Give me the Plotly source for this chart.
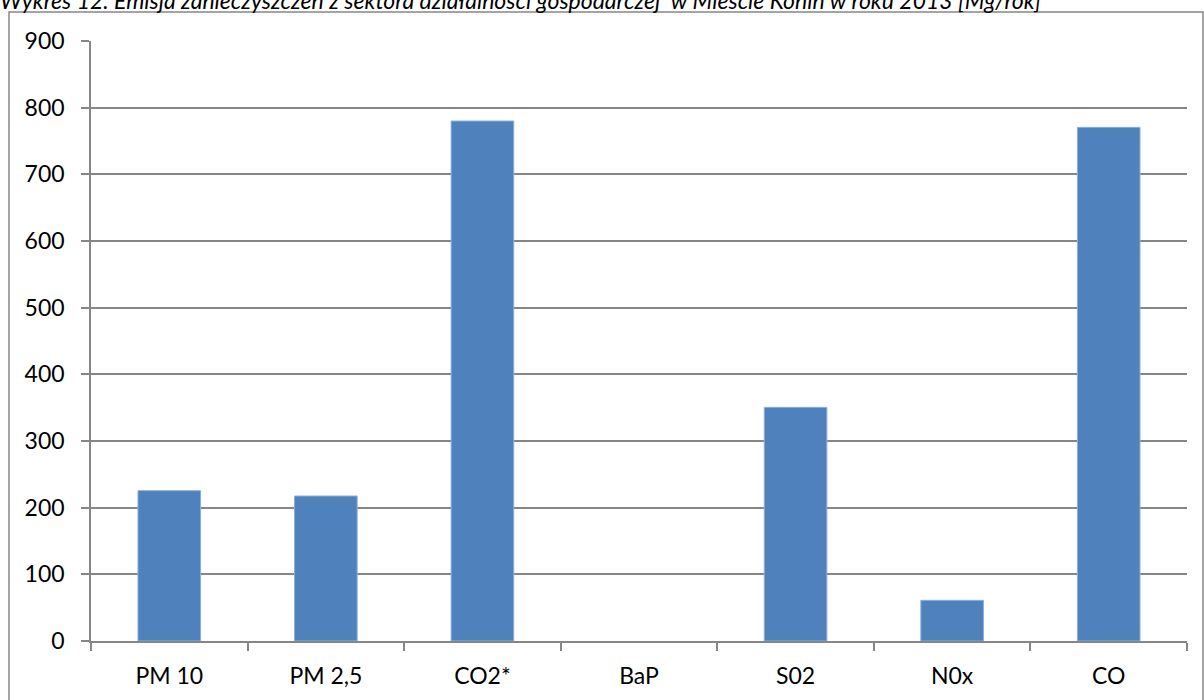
import plotly.graph_objects as go

categories = ["PM 10", "PM 2,5", "CO2*", "BaP", "S02", "N0x", "CO"]
values = [225.5, 217.5, 780, 0, 350.5, 61, 770.5]
y_ticks = [0, 100, 200, 300, 400, 500, 600, 700, 800, 900]
title_text = "Wykres 12. Emisja zanieczyszczeń z sektora działalności gospodarczej  w Mieście Konin w roku 2013 [Mg/rok]"

W, H = 1204, 700
L, R, T, B = 91, 17, 41, 59
pw, ph = W - L - R, H - T - B

def px_x(x):
    return (x - L) / pw

def px_y(y):
    return (H - B - y) / ph

fig = go.Figure(go.Bar(
    x=categories, y=values,
    marker=dict(color="#4F81BD",
                line=dict(color="#8DB0DA", width=[0 if v == 0 else 1 for v in values])),
    width=0.4,
))

grid_color = "#868686"
FONT = "Lato"
fig.update_layout(
    width=W, height=H,
    margin=dict(l=L, r=R, t=T, b=B),
    paper_bgcolor="white", plot_bgcolor="white",
    showlegend=False,
    font=dict(family=FONT, size=23, color="black"),
    xaxis=dict(
        showline=True, linecolor=grid_color, linewidth=1.5,
        ticks="outside", ticklen=8, tickcolor=grid_color, tickwidth=1.5,
        tickson="boundaries", showgrid=False,
        tickfont=dict(size=23), ticklabelstandoff=14,
    ),
    yaxis=dict(
        range=[0, 900], tickvals=y_ticks,
        showline=True, linecolor=grid_color, linewidth=1.5,
        ticks="outside", ticklen=8, tickcolor=grid_color, tickwidth=1.5,
        showgrid=True, gridcolor=grid_color, gridwidth=1.5,
        zeroline=False, tickfont=dict(size=23), ticklabelstandoff=12,
    ),
    shapes=[dict(
        type="rect", xref="paper", yref="paper",
        x0=px_x(9), x1=px_x(1203), y0=px_y(720), y1=px_y(12),
        line=dict(color="#868686", width=1.5), fillcolor="rgba(0,0,0,0)", layer="below",
    )],
    annotations=[dict(
        text=title_text, xref="paper", yref="paper",
        x=px_x(-2), y=px_y(0), xanchor="left", yanchor="middle",
        showarrow=False,
        font=dict(family=FONT, size=23, color="black", style="italic"),
    )],
)

fig.write_html("out.html", config={"displayModeBar": False},
               post_script="document.body.style.margin='0';document.body.style.overflow='hidden';")
